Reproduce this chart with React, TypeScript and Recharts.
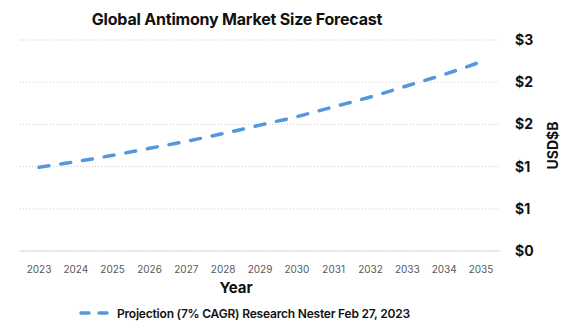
import {
  LineChart,
  Line,
  XAxis,
  YAxis,
  CartesianGrid,
  Legend,
  ReferenceLine,
} from "recharts";

const years = [
  "2023", "2024", "2025", "2026", "2027", "2028", "2029",
  "2030", "2031", "2032", "2033", "2034", "2035",
];
const projection = [
  1.19, 1.27, 1.36, 1.46, 1.56, 1.67, 1.79, 1.91, 2.05, 2.19, 2.35, 2.51, 2.69,
];
const yTicks = [0, 0.6, 1.2, 1.8, 2.4, 3];

const seriesName = "Projection (7% CAGR) Research Nester Feb 27, 2023";
const font = "Inter, 'Open Sans', sans-serif";
const lineColor = "#5597DC";

const data = years.map((year, i) => ({ year, value: projection[i] }));

function LegendContent() {
  return (
    <div
      style={{
        height: 24,
        display: "flex",
        justifyContent: "center",
        alignItems: "center",
        gap: 8,
        fontFamily: font,
        fontSize: 12,
        fontWeight: 600,
        letterSpacing: -0.2,
        color: "#111",
      }}
    >
      <svg width={30} height={10}>
        <line
          x1={2}
          y1={5}
          x2={28}
          y2={5}
          stroke={lineColor}
          strokeWidth={3.5}
          strokeDasharray="8 10"
          strokeLinecap="round"
        />
      </svg>
      <span>{seriesName}</span>
    </div>
  );
}

export default function App() {
  return (
    <div
      style={{
        position: "absolute",
        left: 0,
        top: 0,
        width: 577,
        height: 336,
        background: "#fff",
        fontFamily: font,
      }}
    >
      {/* title */}
      <div
        style={{
          position: "absolute",
          top: 9,
          left: 0,
          width: 474,
          textAlign: "center",
          fontSize: 16,
          fontWeight: 700,
          letterSpacing: -0.2,
          color: "#111",
        }}
      >
        Global Antimony Market Size Forecast
      </div>

      <LineChart
        width={577}
        height={336}
        data={data}
        margin={{ top: 40, right: 0, left: 20, bottom: 11 }}
      >
        <CartesianGrid
          horizontal
          vertical={false}
          stroke="#cfcfcf"
          strokeDasharray="1 2"
        />
        <XAxis
          dataKey="year"
          height={50}
          padding={{ left: 19, right: 19 }}
          axisLine={false}
          tickLine={false}
          tickMargin={9}
          tick={{ fill: "#595959", fontSize: 10, fontFamily: font }}
          interval={0}
          label={{
            value: "Year",
            position: "insideBottom",
            offset: 8,
            dx: -24,
            style: { fill: "#111", fontSize: 15, fontWeight: 700, fontFamily: font },
          }}
        />
        <YAxis
          orientation="right"
          width={77}
          domain={[0, 3]}
          ticks={yTicks}
          axisLine={false}
          tickLine={false}
          tickMargin={9}
          tickFormatter={(v) => `$${Math.round(v)}`}
          tick={{ fill: "#111", fontSize: 14, fontWeight: 700, fontFamily: font }}
          label={{
            value: "USD$B",
            angle: -90,
            position: "insideRight",
            offset: 24,
            style: { fill: "#111", fontSize: 14, fontWeight: 700, fontFamily: font, textAnchor: "middle" },
          }}
        />
        <ReferenceLine y={0} stroke="#d9d9d9" strokeWidth={1} />
        <Legend
          verticalAlign="bottom"
          content={<LegendContent />}
          wrapperStyle={{ left: 0, width: 489 }}
        />
        <Line
          type="monotone"
          dataKey="value"
          name={seriesName}
          stroke={lineColor}
          strokeWidth={3.5}
          strokeDasharray="10 12"
          strokeLinecap="round"
          dot={false}
          isAnimationActive={false}
        />
      </LineChart>
    </div>
  );
}
